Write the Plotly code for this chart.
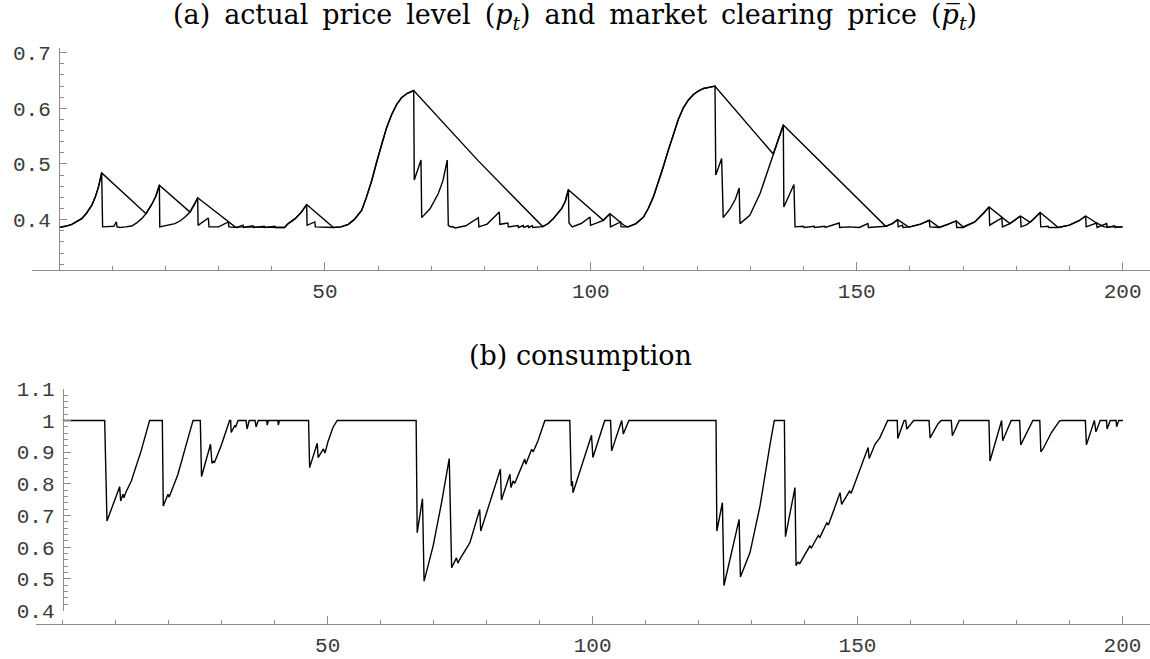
import plotly.graph_objects as go

# ---- (a) market clearing price p̄_t (spiky) ----
t_pbar = [0, 1.2, 2.4, 3.3, 4.27, 5.2, 6.15, 6.8, 7.4, 8.02, 8.2, 10.3, 10.8, 10.9, 11.5, 12.5, 13.67, 14.6, 15.55, 16.36, 17.43, 18.2, 18.87,
          18.95, 19.93, 21.8, 22.8, 23.7, 24.63, 25.57, 26.08, 26.15, 28.08, 28.2, 30.0, 31.84, 31.95,
          33.5, 34.6, 34.7, 36.5, 36.6, 38.6, 38.7, 40.6, 40.7, 42.4, 43.1, 44.4, 45.6, 46.57,
          46.65, 48.1, 48.2, 50.0, 51.6, 53.0, 54.4, 55.5, 56.9, 57.8, 58.8, 59.7, 60.68, 61.6, 62.56, 63.5, 64.4, 65.5, 66.7,
          66.8, 68.07, 68.2, 69.76, 71.3, 72.2, 73.0, 73.2, 73.6, 74.0, 74.5, 76.5, 78.85, 78.95, 80.5, 82.8, 82.9,
          84.4, 84.5, 86.3, 86.4, 87.3, 87.4, 88.2, 88.3, 89.0, 89.1, 90.95, 92.0, 92.96, 94.5, 95.2, 95.78,
          95.9, 96.3, 96.5, 98.2, 99.85, 99.95, 101.5, 102.35, 103.6, 103.7, 105.6, 105.7, 107.0,
          108.5, 109.9, 110.8, 111.75, 112.7, 113.6, 114.55, 115.5, 116.45, 117.4, 118.35, 119.3, 120.2, 121.2, 122.3, 123.35,
          123.5, 124.6, 124.9, 126.2, 127.2, 127.9, 128.05, 129.9, 131.8, 133.7, 134.3, 135.3, 136.2,
          136.3, 138.2, 138.4, 140.0, 140.1, 142.0, 142.1, 144.0, 144.1, 146.7, 146.8, 148.5, 150.5,
          152.1, 152.2, 154.0, 155.45, 156.7, 157.7, 157.8, 158.6, 158.7, 160.0, 162.0, 163.65, 163.75,
          165.5, 167.0, 168.7, 168.8, 170.0, 172.2, 173.8, 174.9, 175.0, 177.3, 177.4, 178.8, 180.8,
          180.9, 182.0, 183.3, 184.5, 184.6, 186.0, 186.1, 187.9, 190.0, 191.8, 193.05, 193.15,
          195.1, 195.2, 197.0, 197.1, 198.5, 198.6, 200.0]
pbar = [0.386, 0.388, 0.3916, 0.396, 0.4018, 0.412, 0.4255, 0.440, 0.458, 0.484, 0.387, 0.388, 0.396, 0.387, 0.386, 0.387, 0.3886, 0.394, 0.4018, 0.4107, 0.4273, 0.442, 0.4618,
        0.387, 0.389, 0.3929, 0.398, 0.4047, 0.4136, 0.4286, 0.4393, 0.3898, 0.4029, 0.387, 0.387, 0.3958, 0.387,
        0.386, 0.390, 0.386, 0.389, 0.386, 0.388, 0.386, 0.388, 0.386, 0.386, 0.3929, 0.4018, 0.4136, 0.4273,
        0.3898, 0.3958, 0.387, 0.386, 0.386, 0.387, 0.3916, 0.400, 0.4166, 0.440, 0.470, 0.503, 0.5357, 0.565, 0.589, 0.607, 0.619, 0.627, 0.632,
        0.4714, 0.507, 0.4036, 0.4196, 0.4464, 0.470, 0.507, 0.3898, 0.387, 0.3875, 0.385, 0.389, 0.4036, 0.387, 0.392, 0.4136, 0.3916,
        0.394, 0.387, 0.3895, 0.386, 0.3895, 0.386, 0.389, 0.386, 0.389, 0.386, 0.3875, 0.393, 0.4018, 0.4196, 0.433, 0.4536,
        0.3941, 0.390, 0.387, 0.393, 0.4047, 0.3898, 0.395, 0.3988, 0.4107, 0.387, 0.3958, 0.387, 0.387,
        0.393, 0.4047, 0.420, 0.4404, 0.466, 0.494, 0.524, 0.5536, 0.580, 0.601, 0.615, 0.625, 0.631, 0.6357, 0.6385, 0.6398,
        0.480, 0.510, 0.4036, 0.4196, 0.437, 0.457, 0.3929, 0.4077, 0.4464, 0.500, 0.518, 0.545, 0.570,
        0.4226, 0.463, 0.387, 0.388, 0.386, 0.388, 0.386, 0.388, 0.386, 0.394, 0.386, 0.387, 0.386,
        0.393, 0.386, 0.387, 0.388, 0.393, 0.400, 0.387, 0.390, 0.386, 0.387, 0.392, 0.3988, 0.387,
        0.386, 0.391, 0.3976, 0.386, 0.386, 0.3958, 0.4107, 0.4226, 0.390, 0.4029, 0.387, 0.393, 0.4065,
        0.387, 0.391, 0.401, 0.413, 0.387, 0.388, 0.386, 0.386, 0.390, 0.398, 0.4065, 0.387,
        0.394, 0.386, 0.3929, 0.386, 0.389, 0.386, 0.387]

# ---- (a) actual price level p_t (sticky, linear declines) ----
t_p = [0, 1.2, 2.4, 3.3, 4.27, 5.2, 6.15, 6.8, 7.4, 8.02, 16.36, 17.43, 18.2, 18.87, 24.63, 25.57, 26.08, 33.1, 42.4, 43.1, 44.4, 45.6, 46.57,
       51.6, 53.0, 54.4, 55.5, 56.9, 57.8, 58.8, 59.7, 60.68, 61.6, 62.56, 63.5, 64.4, 65.5, 66.7, 78.8, 90.95, 92.0, 92.96, 94.5, 95.2, 95.78,
       102.35, 103.6, 106.4, 107.0, 108.5, 109.9, 110.8, 111.75, 112.7, 113.6, 114.55, 115.5, 116.45, 117.4, 118.35, 119.3, 120.2, 121.2, 122.3, 123.35,
       134.3, 135.3, 136.2, 155.45, 156.7, 157.7, 159.7, 160.0, 162.0, 163.65, 165.3, 165.5, 167.0, 168.7,
       170.0, 172.2, 173.8, 174.9, 178.8, 180.8, 182.6, 183.3, 184.5, 187.9, 190.0, 191.8, 193.05,
       195.1, 196.5, 200.0]
p = [0.386, 0.388, 0.3916, 0.396, 0.4018, 0.412, 0.4255, 0.440, 0.458, 0.484, 0.4107, 0.4273, 0.442, 0.4618, 0.4136, 0.4286, 0.4393, 0.387, 0.386, 0.3929, 0.4018, 0.4136, 0.4273,
     0.386, 0.387, 0.3916, 0.400, 0.4166, 0.440, 0.470, 0.503, 0.5357, 0.565, 0.589, 0.607, 0.619, 0.627, 0.632, 0.506, 0.3875, 0.393, 0.4018, 0.4196, 0.433, 0.4536,
     0.3988, 0.4107, 0.3886, 0.387, 0.393, 0.4047, 0.420, 0.4404, 0.466, 0.494, 0.524, 0.5536, 0.580, 0.601, 0.615, 0.625, 0.631, 0.6357, 0.6385, 0.6398,
     0.518, 0.545, 0.570, 0.388, 0.393, 0.400, 0.387, 0.387, 0.392, 0.3988, 0.387, 0.386, 0.391, 0.3976,
     0.387, 0.3958, 0.4107, 0.4226, 0.393, 0.4065, 0.395, 0.401, 0.413, 0.386, 0.390, 0.398, 0.4065,
     0.394, 0.387, 0.387]

# ---- (b) consumption ----
t_c = [0, 7.92, 8.36, 10.75, 10.94, 11.38, 11.57, 11.88, 12.95, 14.8, 16.4, 18.8, 18.98, 19.87, 20.1, 21.75, 23.6, 24.6,
       25.97, 26.2, 27.9, 28.17, 28.5, 28.6, 29.9, 31.5, 31.7, 31.8, 32.5, 32.6, 33.1, 34.6, 34.8, 35.2, 36.3, 36.5,
       36.9, 38.5, 38.6, 38.8, 40.6, 40.7, 40.9, 46.4, 46.6, 48.04, 48.2, 49.2, 49.5, 50.06, 51.0, 51.8,
       66.7, 66.9, 67.9, 68.2, 69.9, 71.5, 72.95, 73.4, 74.3, 74.6, 74.9, 76.85, 78.7, 78.9, 82.6, 82.8,
       84.4, 84.6, 85.0, 85.3, 87.2, 87.4, 88.5, 88.8, 89.7, 91.0, 95.7, 96.0, 96.2, 96.3, 99.8, 100.06,
       102.3, 103.4, 103.6, 105.5, 105.8, 106.85, 123.3, 123.45, 124.5, 124.8, 127.66, 127.9, 129.7,
       131.6, 133.5, 134.3, 136.2, 136.4, 138.2, 138.4, 138.8, 139.1, 141.0, 141.3, 142.6, 142.9, 144.2,
       144.5, 145.7, 146.7, 147.0, 148.5, 148.8, 149.8, 151.0, 152.0, 152.2, 153.3, 154.2, 155.7,
       157.5, 157.6, 158.8, 159.1, 159.3, 160.6, 163.5, 163.7, 165.2, 165.8, 167.7, 167.9, 169.2,
       174.8, 175.0, 177.2, 177.4, 179.0, 180.6, 180.8, 183.1, 184.4, 184.6, 185.0, 186.6, 188.1,
       188.5, 193.0, 193.2, 194.7, 195.0, 195.8, 197.0, 197.1, 197.7, 198.8, 198.9, 199.3, 200.1]
cons = [1, 1, 0.6826, 0.791, 0.746, 0.767, 0.756, 0.772, 0.809, 0.904, 1.0, 1.0, 0.730, 0.767, 0.758, 0.830, 0.941, 1.0,
        1.0, 0.823, 0.925, 0.865, 0.872, 0.866, 0.920, 1.0, 1.0, 0.962, 0.985, 0.978, 1.0, 1.0, 0.973, 1.0, 1.0, 0.980,
        1.0, 1.0, 0.985, 1.0, 1.0, 0.985, 1.0, 1.0, 0.851, 0.928, 0.883, 0.910, 0.897, 0.933, 0.978, 1.0,
        1.0, 0.6456, 0.753, 0.4927, 0.6035, 0.7405, 0.8797, 0.535, 0.566, 0.550, 0.561, 0.614, 0.719, 0.651, 0.846, 0.749,
        0.830, 0.788, 0.809, 0.801, 0.878, 0.862, 0.909, 0.901, 0.936, 1.0, 1.0, 0.793, 0.809, 0.772, 0.9536, 0.883,
        1.0, 1.0, 0.904, 1.0, 0.957, 1.0, 1.0, 0.651, 0.7405, 0.479, 0.6877, 0.506, 0.582,
        0.730, 0.925, 1.0, 1.0, 0.633, 0.788, 0.542, 0.553, 0.548, 0.6035, 0.598, 0.637, 0.631, 0.677,
        0.670, 0.725, 0.772, 0.735, 0.777, 0.770, 0.814, 0.867, 0.9146, 0.880, 0.925, 0.945, 1.0,
        1.0, 0.943, 1.0, 1.0, 0.9727, 1.0, 1.0, 0.945, 0.990, 1.0, 1.0, 0.952, 1.0,
        1.0, 0.872, 1.0, 0.936, 1.0, 1.0, 0.923, 1.0, 1.0, 0.901, 0.910, 0.962, 0.998,
        1.0, 1.0, 0.923, 1.0, 0.964, 1.0, 1.0, 0.973, 1.0, 1.0, 0.980, 1.0, 1.0]

x_ticks = [50, 100, 150, 200]
ya_ticks = [0.4, 0.5, 0.6, 0.7]
ya_text = ["0.4", "0.5", "0.6", "0.7"]
yb_ticks = [0.4, 0.5, 0.6, 0.7, 0.8, 0.9, 1.0, 1.1]
yb_text = ["0.4", "0.5", "0.6", "0.7", "0.8", "0.9", "1", "1.1"]

SP = " \u2009"
title_a = SP.join(["(a)", "actual", "price", "level", "(<i>p</i><sub><i>t</i></sub>)", "and", "market",
                   "clearing", "price", "(<i>p\u0305</i><sub><i>t</i></sub>)"])
title_b = "(b) consumption"

W, H = 1150, 659
AX = "#8c8c8c"
LBL = "#3a3a3a"
TICKFONT = dict(family="Liberation Mono", size=21, color=LBL)
TITLEFONT = dict(family="DejaVu Serif", size=27, color="black")
line = dict(color="black", width=1.4)

fig = go.Figure()
fig.add_trace(go.Scatter(x=t_pbar, y=pbar, mode="lines", line=line, xaxis="x", yaxis="y", name="p̄"))
fig.add_trace(go.Scatter(x=t_p, y=p, mode="lines", line=line, xaxis="x", yaxis="y", name="p"))
fig.add_trace(go.Scatter(x=t_c, y=cons, mode="lines", line=line, xaxis="x2", yaxis="y2", name="c"))

def xa(domain, rng, **kw):
    return dict(domain=domain, range=rng, showline=True, linecolor=AX, linewidth=1, automargin=False,
                showgrid=False, zeroline=False, ticks="inside", ticklen=8, tickcolor=AX,
                tickvals=x_ticks, tickfont=TICKFONT, ticklabelstandoff=2,
                minor=dict(ticks="inside", ticklen=4, tickcolor=AX, dtick=10, tick0=0, showgrid=False),
                **kw)

def ya(domain, rng, vals, text, pos, tick0, **kw):
    return dict(domain=domain, range=rng, anchor="free", position=pos, showline=True, linecolor=AX,
                linewidth=1, showgrid=False, zeroline=False, ticks="inside", ticklen=7, tickcolor=AX,
                automargin=False,
                tickvals=vals, ticktext=text, tickfont=TICKFONT, ticklabelstandoff=4,
                minor=dict(ticks="inside", ticklen=4, tickcolor=AX, dtick=0.02, tick0=tick0, showgrid=False),
                **kw)

fig.update_layout(
    template="none",
    width=W, height=H, margin=dict(l=0, r=0, t=0, b=0, pad=0, autoexpand=False),
    paper_bgcolor="white", plot_bgcolor="white", showlegend=False,
    xaxis=xa([32 / W, 1.0], [-5.08, 205.15], anchor="y"),
    yaxis=ya([1 - 270 / H, 1 - 48 / H], [0.3095, 0.7084], ya_ticks, ya_text, 59 / W, 0.3),
    xaxis2=xa([36 / W, 1.0], [-5.04, 205.2], anchor="free", position=1 - 624 / H),
    yaxis2=ya([1 - 610.5 / H, 1 - 388.8 / H], [0.4, 1.1], yb_ticks, yb_text, 62.7 / W, 0.4),
    annotations=[
        dict(text=title_a, x=575 / W, y=1 - 17 / H, xref="paper", yref="paper", showarrow=False,
             xanchor="center", yanchor="middle", font=TITLEFONT),
        dict(text=title_b, x=580 / W, y=1 - 355 / H, xref="paper", yref="paper", showarrow=False,
             xanchor="center", yanchor="middle", font=TITLEFONT),
    ],
)

fig.write_html("out.html", config={"displayModeBar": False},
               post_script="document.body.style.margin='0';document.body.style.overflow='hidden';")
